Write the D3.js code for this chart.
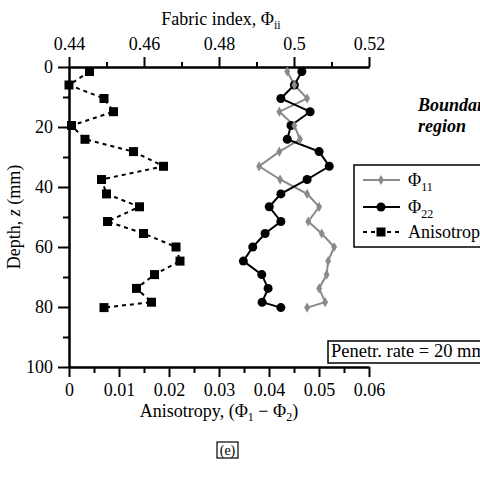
<!DOCTYPE html>
<html><head><meta charset="utf-8">
<script src="https://cdn.jsdelivr.net/npm/d3@7"></script>
<style>body{margin:0;background:#fff}svg{display:block}text{font-family:"Liberation Serif","Times New Roman",serif;fill:#000}</style>
</head><body>
<svg id="c" width="480" height="477"></svg>
<script>
const depth = [1.5, 6, 10.5, 14.9, 19.5, 24.1, 28.2, 33.1, 37.5, 42.3, 46.6, 51.5, 55.5, 60, 64.7, 69.2, 73.8, 78.4, 80.2];
const phi11 = [0.4982, 0.5001, 0.5035, 0.4961, 0.5001, 0.5016, 0.4961, 0.4907, 0.4963, 0.5035, 0.5067, 0.5038, 0.5074, 0.5107, 0.5091, 0.5087, 0.5067, 0.5083, 0.5035];
const phi22 = [0.5021, 0.5001, 0.4965, 0.5043, 0.4992, 0.4982, 0.5067, 0.5094, 0.5035, 0.4965, 0.4934, 0.4965, 0.4923, 0.4890, 0.4865, 0.4914, 0.4931, 0.4915, 0.4965];
const aniso = [0.0041, 0.0000, 0.0070, 0.0089, 0.0005, 0.0032, 0.0129, 0.0189, 0.0065, 0.0075, 0.0141, 0.0077, 0.0149, 0.0214, 0.0222, 0.0171, 0.0135, 0.0165, 0.0070];
const topTicks = [0.44, 0.46, 0.48, 0.5, 0.52];
const topMinor = [0.45, 0.47, 0.49, 0.51];
const botTicks = [0, 0.01, 0.02, 0.03, 0.04, 0.05, 0.06];
const botMinor = [0.005, 0.015, 0.025, 0.035, 0.045, 0.055];
const leftTicks = [0, 20, 40, 60, 80, 100];
const leftMinor = [10, 30, 50, 70, 90];

const svg = d3.select("#c");
const FS = 18;
const y = d3.scaleLinear().domain([0, 100]).range([67, 367]);
const xT = d3.scaleLinear().domain([0.44, 0.52]).range([69, 369]);
const xB = d3.scaleLinear().domain([0, 0.06]).range([69, 369]);
const GRAY = "#8a8a8a";

function styleAxis(g) {
  g.selectAll("path.domain").attr("stroke", "#000").attr("stroke-width", 2);
  g.selectAll(".tick line").attr("stroke", "#000").attr("stroke-width", 2);
  g.selectAll(".tick text").style("font-size", FS + "px").attr("font-family", null);
  g.attr("font-family", null);
}
// top axis
const gT = svg.append("g").attr("transform", "translate(0,67)")
  .call(d3.axisTop(xT).tickValues(topTicks).tickFormat(d3.format("~g")).tickSize(10).tickSizeOuter(0).tickPadding(7));
styleAxis(gT);
const gTm = svg.append("g").attr("transform", "translate(0,67)")
  .call(d3.axisTop(xT).tickValues(topMinor).tickFormat("").tickSize(5).tickSizeOuter(0));
styleAxis(gTm);
// bottom axis
const gB = svg.append("g").attr("transform", "translate(0,367)")
  .call(d3.axisBottom(xB).tickValues(botTicks).tickFormat(d3.format("~g")).tickSize(10).tickSizeOuter(0).tickPadding(6));
styleAxis(gB);
const gBm = svg.append("g").attr("transform", "translate(0,367)")
  .call(d3.axisBottom(xB).tickValues(botMinor).tickFormat("").tickSize(6).tickSizeOuter(0));
styleAxis(gBm);
// left axis
const gL = svg.append("g").attr("transform", "translate(69,0)")
  .call(d3.axisLeft(y).tickValues(leftTicks).tickSize(11).tickSizeOuter(0).tickPadding(5));
styleAxis(gL);
const gLm = svg.append("g").attr("transform", "translate(69,0)")
  .call(d3.axisLeft(y).tickValues(leftMinor).tickFormat("").tickSize(6).tickSizeOuter(0));
styleAxis(gLm);

// axis titles
const tt = svg.append("text").attr("x", 221).attr("y", 25).attr("text-anchor", "middle").style("font-size", FS + "px");
tt.append("tspan").text("Fabric index, \u03A6");
tt.append("tspan").attr("dy", 4).style("font-size", "12px").text("ii");

const bt = svg.append("text").attr("x", 219).attr("y", 417).attr("text-anchor", "middle").style("font-size", FS + "px");
bt.append("tspan").text("Anisotropy, (\u03A6");
bt.append("tspan").attr("dy", 4).style("font-size", "12px").text("1");
bt.append("tspan").attr("dy", -4).text(" \u2212 \u03A6");
bt.append("tspan").attr("dy", 4).style("font-size", "12px").text("2");
bt.append("tspan").attr("dy", -4).text(")");

svg.append("text").attr("transform", "translate(20,217) rotate(-90)").attr("text-anchor", "middle")
  .style("font-size", FS + "px").html('Depth, <tspan font-style="italic">z</tspan> (mm)');

// data
const idx = d3.range(depth.length);
const lineA = d3.line().x(i => xB(aniso[i])).y(i => y(depth[i]));
const line11 = d3.line().x(i => xT(phi11[i])).y(i => y(depth[i]));
const line22 = d3.line().x(i => xT(phi22[i])).y(i => y(depth[i]));

svg.append("path").attr("d", lineA(idx)).attr("fill", "none").attr("stroke", "#000").attr("stroke-width", 2).attr("stroke-dasharray", "4,4");
svg.selectAll("rect.sq").data(idx).join("rect").attr("class", "sq")
  .attr("x", i => xB(aniso[i]) - 4.5).attr("y", i => y(depth[i]) - 4.5).attr("width", 9).attr("height", 9).attr("fill", "#000");

svg.append("path").attr("d", line11(idx)).attr("fill", "none").attr("stroke", GRAY).attr("stroke-width", 2);
svg.append("path").attr("d", line22(idx)).attr("fill", "none").attr("stroke", "#000").attr("stroke-width", 2);
svg.selectAll("circle.c22").data(idx).join("circle").attr("class", "c22")
  .attr("cx", i => xT(phi22[i])).attr("cy", i => y(depth[i])).attr("r", 4.5).attr("fill", "#000");
const dia = d3.symbol().type(d3.symbolDiamond).size(30);
svg.selectAll("path.d11").data(idx).join("path").attr("class", "d11")
  .attr("transform", i => `translate(${xT(phi11[i])},${y(depth[i])})`).attr("d", dia()).attr("fill", GRAY);

// Boundary region
svg.append("text").attr("x", 418).attr("y", 111).style("font-size", "18px").attr("font-weight", "bold").attr("font-style", "italic").text("Boundary");
svg.append("text").attr("x", 418).attr("y", 132).style("font-size", "18px").attr("font-weight", "bold").attr("font-style", "italic").text("region");

// legend
const lg = svg.append("g");
lg.append("rect").attr("x", 354).attr("y", 165).attr("width", 140).attr("height", 82).attr("fill", "#fff").attr("stroke", "#000").attr("stroke-width", 1.5);
const legY = [180, 207, 232];
lg.append("line").attr("x1", 363).attr("x2", 400).attr("y1", legY[0]).attr("y2", legY[0]).attr("stroke", GRAY).attr("stroke-width", 2);
lg.append("path").attr("transform", `translate(381,${legY[0]})`).attr("d", dia()).attr("fill", GRAY);
lg.append("line").attr("x1", 363).attr("x2", 400).attr("y1", legY[1]).attr("y2", legY[1]).attr("stroke", "#000").attr("stroke-width", 2);
lg.append("circle").attr("cx", 381).attr("cy", legY[1]).attr("r", 4.5).attr("fill", "#000");
lg.append("line").attr("x1", 363).attr("x2", 400).attr("y1", legY[2]).attr("y2", legY[2]).attr("stroke", "#000").attr("stroke-width", 2).attr("stroke-dasharray", "4,4");
lg.append("rect").attr("x", 376.5).attr("y", legY[2] - 4.5).attr("width", 9).attr("height", 9).attr("fill", "#000");
const l1 = lg.append("text").attr("x", 408).attr("y", legY[0] + 6).style("font-size", FS + "px");
l1.append("tspan").text("\u03A6"); l1.append("tspan").attr("dy", 5).style("font-size", "12px").text("11");
const l2 = lg.append("text").attr("x", 408).attr("y", legY[1] + 6).style("font-size", FS + "px");
l2.append("tspan").text("\u03A6"); l2.append("tspan").attr("dy", 5).style("font-size", "12px").text("22");
lg.append("text").attr("x", 408).attr("y", legY[2] + 6).style("font-size", FS + "px").text("Anisotropy");

// penetration rate box
svg.append("rect").attr("x", 328).attr("y", 341).attr("width", 170).attr("height", 22).attr("fill", "#fff").attr("stroke", "#000").attr("stroke-width", 1.5);
svg.append("text").attr("x", 331).attr("y", 357).style("font-size", "18.5px").text("Penetr. rate = 20 mm/s");

// (e) label
svg.append("rect").attr("x", 217).attr("y", 442).attr("width", 21).attr("height", 16).attr("fill", "#fff").attr("stroke", "#000").attr("stroke-width", 1.2);
svg.append("text").attr("x", 227.5).attr("y", 455).attr("text-anchor", "middle").style("font-size", "14px").text("(e)");
</script>
</body></html>
